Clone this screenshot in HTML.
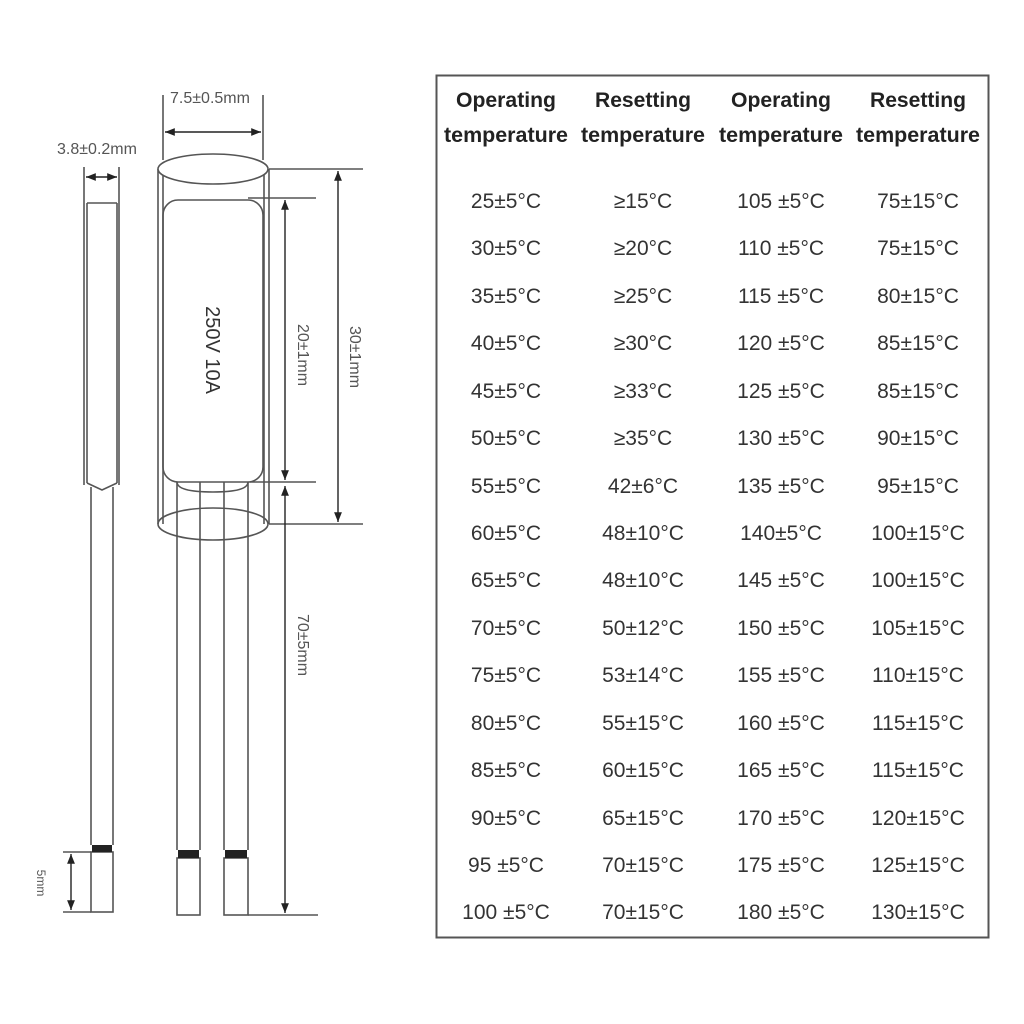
<!DOCTYPE html>
<html><head><meta charset="utf-8"><style>
html,body{margin:0;padding:0;background:#fff;width:1024px;height:1024px;overflow:hidden}
svg{display:block}
</style></head><body>
<svg width="1024" height="1024" viewBox="0 0 1024 1024" xmlns="http://www.w3.org/2000/svg" font-family="Liberation Sans, sans-serif">
<defs>
<marker id="a" viewBox="0 0 10 10" refX="10" refY="5" markerWidth="7" markerHeight="7" orient="auto-start-reverse"><path d="M0,1 L10,5 L0,9 z" fill="#222"/></marker>
</defs>
<g fill="none" stroke="#555" stroke-width="1.6">
<line x1="84" y1="167" x2="84" y2="485"/><line x1="119" y1="167" x2="119" y2="485"/>
<line x1="87" y1="203" x2="117" y2="203"/>
<line x1="87" y1="203" x2="87" y2="483"/><line x1="117" y1="203" x2="117" y2="483"/>
<path d="M87,483 L102,490 L117,483"/>
<line x1="91" y1="487" x2="91" y2="845"/><line x1="113" y1="487" x2="113" y2="845"/>
<rect x="91" y="852" width="22" height="60"/>
<line x1="158" y1="169" x2="158" y2="524"/><line x1="163" y1="169" x2="163" y2="524"/>
<line x1="264" y1="169" x2="264" y2="524"/><line x1="269" y1="169" x2="269" y2="524"/>
<ellipse cx="213" cy="169" rx="55" ry="15" fill="#fff"/>
<rect x="163" y="200" width="100" height="282" rx="15"/>
<path d="M177,482 Q177,492 213,492 Q248,492 248,482"/>
<line x1="177" y1="482" x2="177" y2="850"/><line x1="200" y1="482" x2="200" y2="850"/>
<line x1="224" y1="482" x2="224" y2="850"/><line x1="248" y1="482" x2="248" y2="850"/>
<ellipse cx="213" cy="524" rx="55" ry="16"/>
<rect x="177" y="858" width="23" height="57"/><rect x="224" y="858" width="24" height="57"/>
<line x1="163" y1="95" x2="163" y2="160"/><line x1="263" y1="95" x2="263" y2="160"/>
<line x1="269" y1="169" x2="363" y2="169"/><line x1="269" y1="524" x2="363" y2="524"/>
<line x1="248" y1="198" x2="316" y2="198"/><line x1="250" y1="482" x2="316" y2="482"/>
<line x1="248" y1="915" x2="318" y2="915"/>
<line x1="63" y1="852" x2="91" y2="852"/><line x1="63" y1="912" x2="91" y2="912"/>
</g>
<g fill="#222"><rect x="92" y="845" width="20" height="7"/><rect x="178" y="850" width="21" height="8"/><rect x="225" y="850" width="22" height="8"/></g>
<g stroke="#222" stroke-width="1.4" marker-start="url(#a)" marker-end="url(#a)">
<line x1="165" y1="132" x2="261" y2="132"/>
<line x1="86" y1="177" x2="117" y2="177"/>
<line x1="338" y1="171" x2="338" y2="522"/>
<line x1="285" y1="200" x2="285" y2="480"/>
<line x1="285" y1="486" x2="285" y2="913"/>
<line x1="71" y1="854" x2="71" y2="910"/>
</g>
<g fill="#555" font-size="16">
<text x="210" y="103" text-anchor="middle">7.5±0.5mm</text>
<text x="97" y="154" text-anchor="middle">3.8±0.2mm</text>
<text transform="translate(350,357) rotate(90)" text-anchor="middle">30±1mm</text>
<text transform="translate(298,355) rotate(90)" text-anchor="middle">20±1mm</text>
<text transform="translate(298,645) rotate(90)" text-anchor="middle">70±5mm</text>
<text transform="translate(37,883) rotate(90)" text-anchor="middle" font-size="12">5mm</text>
<text transform="translate(206,350) rotate(90)" text-anchor="middle" font-size="20" fill="#333">250V  10A</text>
</g>
<rect x="436.5" y="75.5" width="552" height="862" fill="none" stroke="#555" stroke-width="2"/>
<g font-weight="bold" font-size="21" fill="#222" text-anchor="middle">
<text x="506" y="107" textLength="100" lengthAdjust="spacingAndGlyphs">Operating</text><text x="643" y="107" textLength="96" lengthAdjust="spacingAndGlyphs">Resetting</text>
<text x="781" y="107" textLength="100" lengthAdjust="spacingAndGlyphs">Operating</text><text x="918" y="107" textLength="96" lengthAdjust="spacingAndGlyphs">Resetting</text>
<text x="506" y="142" textLength="124" lengthAdjust="spacingAndGlyphs">temperature</text><text x="643" y="142" textLength="124" lengthAdjust="spacingAndGlyphs">temperature</text>
<text x="781" y="142" textLength="124" lengthAdjust="spacingAndGlyphs">temperature</text><text x="918" y="142" textLength="124" lengthAdjust="spacingAndGlyphs">temperature</text>
</g>
<g font-size="21" fill="#333" text-anchor="middle">
<text x="506" y="208">25±5°C</text><text x="643" y="208">≥15°C</text><text x="781" y="208">105 ±5°C</text><text x="918" y="208">75±15°C</text>
<text x="506" y="255">30±5°C</text><text x="643" y="255">≥20°C</text><text x="781" y="255">110 ±5°C</text><text x="918" y="255">75±15°C</text>
<text x="506" y="303">35±5°C</text><text x="643" y="303">≥25°C</text><text x="781" y="303">115 ±5°C</text><text x="918" y="303">80±15°C</text>
<text x="506" y="350">40±5°C</text><text x="643" y="350">≥30°C</text><text x="781" y="350">120 ±5°C</text><text x="918" y="350">85±15°C</text>
<text x="506" y="398">45±5°C</text><text x="643" y="398">≥33°C</text><text x="781" y="398">125 ±5°C</text><text x="918" y="398">85±15°C</text>
<text x="506" y="445">50±5°C</text><text x="643" y="445">≥35°C</text><text x="781" y="445">130 ±5°C</text><text x="918" y="445">90±15°C</text>
<text x="506" y="493">55±5°C</text><text x="643" y="493">42±6°C</text><text x="781" y="493">135 ±5°C</text><text x="918" y="493">95±15°C</text>
<text x="506" y="540">60±5°C</text><text x="643" y="540">48±10°C</text><text x="781" y="540">140±5°C</text><text x="918" y="540">100±15°C</text>
<text x="506" y="587">65±5°C</text><text x="643" y="587">48±10°C</text><text x="781" y="587">145 ±5°C</text><text x="918" y="587">100±15°C</text>
<text x="506" y="635">70±5°C</text><text x="643" y="635">50±12°C</text><text x="781" y="635">150 ±5°C</text><text x="918" y="635">105±15°C</text>
<text x="506" y="682">75±5°C</text><text x="643" y="682">53±14°C</text><text x="781" y="682">155 ±5°C</text><text x="918" y="682">110±15°C</text>
<text x="506" y="730">80±5°C</text><text x="643" y="730">55±15°C</text><text x="781" y="730">160 ±5°C</text><text x="918" y="730">115±15°C</text>
<text x="506" y="777">85±5°C</text><text x="643" y="777">60±15°C</text><text x="781" y="777">165 ±5°C</text><text x="918" y="777">115±15°C</text>
<text x="506" y="825">90±5°C</text><text x="643" y="825">65±15°C</text><text x="781" y="825">170 ±5°C</text><text x="918" y="825">120±15°C</text>
<text x="506" y="872">95 ±5°C</text><text x="643" y="872">70±15°C</text><text x="781" y="872">175 ±5°C</text><text x="918" y="872">125±15°C</text>
<text x="506" y="919">100 ±5°C</text><text x="643" y="919">70±15°C</text><text x="781" y="919">180 ±5°C</text><text x="918" y="919">130±15°C</text>
</g>
</svg>
</body></html>
